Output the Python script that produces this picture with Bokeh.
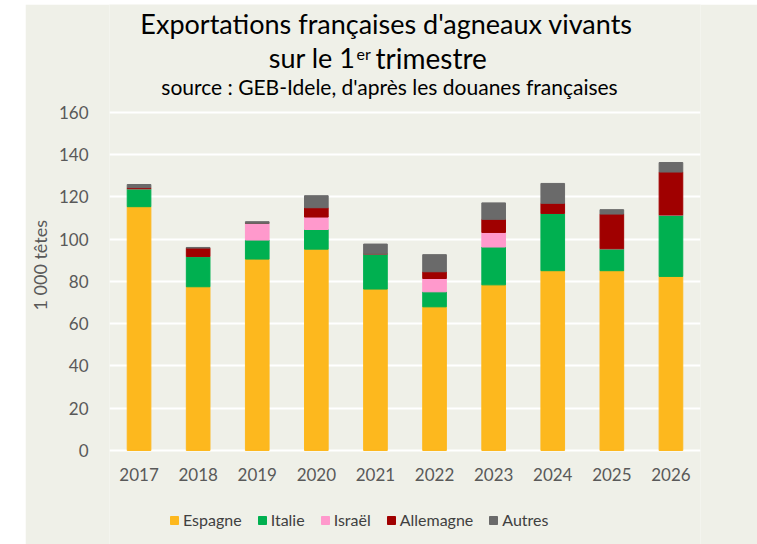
from bokeh.plotting import figure
from bokeh.models import (ColumnDataSource, Label, Legend, LegendItem, FactorRange,
                          Range1d, Spacer, FixedTicker)
from bokeh.layouts import row, column
from bokeh.embed import file_html
from bokeh.resources import INLINE

years = ["2017", "2018", "2019", "2020", "2021", "2022", "2023", "2024", "2025", "2026"]
series = ["Espagne", "Italie", "Israël", "Allemagne", "Autres"]
espagne = [115.4, 77.5, 90.6, 95.3, 76.4, 68.0, 78.4, 85.1, 85.1, 82.4]
italie = [8.5, 14.3, 9.0, 9.3, 16.7, 7.1, 17.9, 27.1, 10.4, 29.1]
israel = [0.0, 0.0, 7.9, 5.9, 0.0, 6.3, 6.9, 0.0, 0.0, 0.0]
allemagne = [0.5, 4.0, 0.0, 4.4, 0.0, 3.2, 6.2, 4.8, 16.4, 20.3]
autres = [1.5, 0.3, 0.8, 5.7, 4.6, 8.1, 7.8, 9.4, 2.1, 4.5]
y_ticks = [0, 20, 40, 60, 80, 100, 120, 140, 160]

colors = ["#FDB81E", "#00B050", "#FF99CC", "#A00000", "#6A6A6A"]
BG = "#EFF0E8"
FONT = "Lato"

src = ColumnDataSource(data=dict(year=years, Espagne=espagne, Italie=italie,
                                 **{"Israël": israel}, Allemagne=allemagne, Autres=autres))

# frame spans the whole figure height; the value axis shows 0..160 only
p = figure(x_range=FactorRange(*years), y_range=Range1d(-44.5, 211.1),
           width=732, height=540, output_backend="svg", toolbar_location=None,
           background_fill_color=BG, border_fill_color=BG, outline_line_color=None,
           min_border_left=83, min_border_right=57, min_border_top=0, min_border_bottom=0)

renderers = p.vbar_stack(series, x="year", width=0.4, source=src, color=colors,
                         line_color=colors)

p.x_range.range_padding = 0
p.xgrid.grid_line_color = None
p.ygrid.grid_line_color = "white"
p.ygrid.grid_line_width = 2
p.yaxis.ticker = FixedTicker(ticks=y_ticks)
p.xaxis.fixed_location = 0

for ax in (p.xaxis, p.yaxis):
    ax.axis_line_color = None
    ax.major_tick_line_color = None
    ax.minor_tick_line_color = None
    ax.major_label_text_font = FONT
    ax.major_label_text_font_size = "17px"
    ax.major_label_text_color = "#595959"

p.xaxis.major_label_standoff = 12
p.yaxis.major_label_standoff = 15
p.yaxis.axis_label = "\u00a0" * 4 + "1 000 têtes"
p.yaxis.axis_label_text_font = FONT
p.yaxis.axis_label_text_font_style = "normal"
p.yaxis.axis_label_text_font_size = "18px"
p.yaxis.axis_label_text_color = "#595959"
p.yaxis.axis_label_standoff = 5

items = [LegendItem(label=s, renderers=[r]) for s, r in zip(series, renderers)]
legend = Legend(items=items, orientation="horizontal", location=(60, 15),
                glyph_width=10, glyph_height=10, label_standoff=4, spacing=15,
                padding=0, margin=0, border_line_color=None, background_fill_alpha=0,
                label_text_font=FONT, label_text_font_size="16px",
                label_text_color="#404040")
p.add_layout(legend)

title_kw = dict(x_units="screen", y_units="screen", text_font=FONT, text_color="#000000",
                text_baseline="alphabetic")
p.add_layout(Label(x=277, y=521, text="Exportations françaises d'agneaux vivants",
                   text_align="center", text_font_size="27px", **title_kw))
p.add_layout(Label(x=246, y=487, text="sur le 1", text_align="right",
                   text_font_size="27px", **title_kw))
p.add_layout(Label(x=247, y=491, text="er", text_align="left",
                   text_font_size="16px", **title_kw))
p.add_layout(Label(x=266, y=487, text="trimestre", text_align="left",
                   text_font_size="28px", **title_kw))
p.add_layout(Label(x=280, y=458, text="source : GEB-Idele, d'après les douanes françaises",
                   text_align="center", text_font_size="21px", **title_kw))

layout = column(Spacer(width=757, height=4),
                row(Spacer(width=25, height=540), p))
open("out.html", "w").write(file_html(layout, INLINE))
